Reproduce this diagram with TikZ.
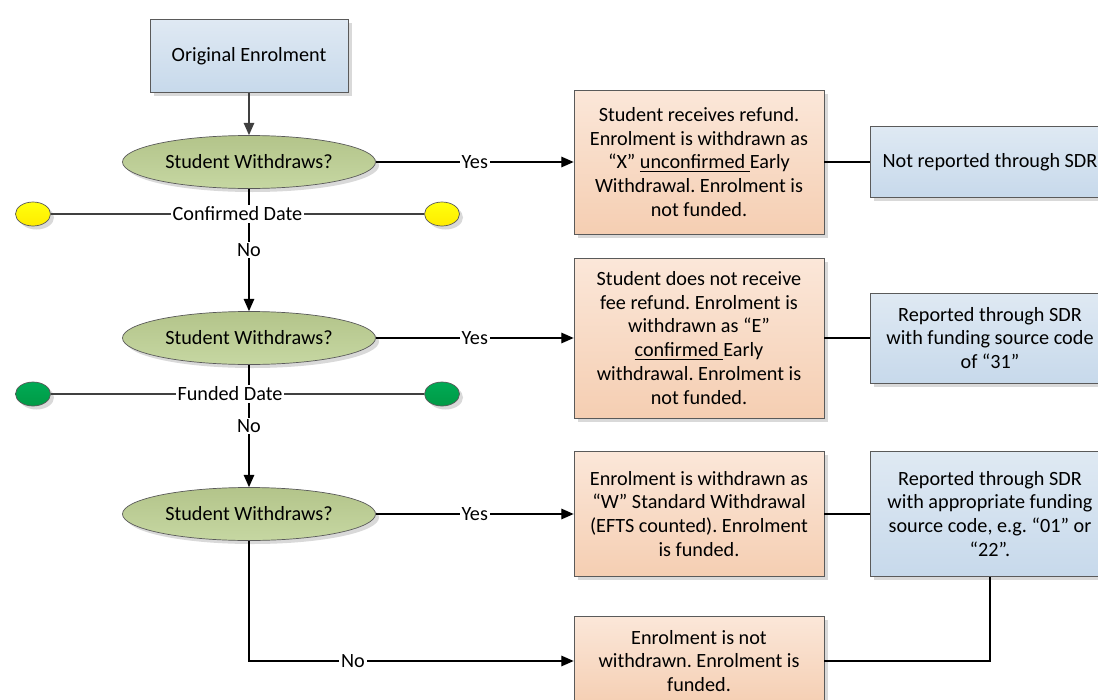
\documentclass[tikz,border=0pt]{standalone}
\usepackage{fontspec}
\setmainfont{Carlito}
\usepackage{tikz}
\usetikzlibrary{positioning}
\usetikzlibrary{shapes,arrows.meta,shadows}
\definecolor{orTop}{HTML}{FBE7D9}
\definecolor{orBot}{HTML}{F5CEB2}
\definecolor{blTop}{HTML}{DFE9F3}
\definecolor{blBot}{HTML}{C7D9EB}
\definecolor{grTop}{HTML}{B3C48A}
\definecolor{grBot}{HTML}{C6D7A2}
\definecolor{dotTop}{HTML}{00AA55}
\definecolor{dotBot}{HTML}{009A45}
\definecolor{edge}{HTML}{5A5A5A}
\tikzstyle{boxshadow} = [drop shadow={shadow xshift=0.07cm, shadow yshift=-0.07cm, fill=black!25, opacity=0.6}]
\tikzstyle{decision} = [ellipse, minimum width=5.06cm, minimum height=1.06cm, inner sep=0pt, text centered, draw=edge, top color=grTop, bottom color=grBot, boxshadow]
\tikzstyle{start} = [rectangle, draw=edge, top color=blTop, bottom color=blBot,
    minimum width=3.96cm, minimum height=1.46cm, text centered, boxshadow]
\tikzstyle{outcome} = [rectangle, draw=edge, top color=orTop, bottom color=orBot,
    minimum width=5cm, align=center, boxshadow]
\tikzstyle{report} = [rectangle, draw=edge, top color=blTop, bottom color=blBot,
    minimum width=4.8cm, align=center, boxshadow]
\tikzstyle{yellowdot} = [ellipse, draw=edge, minimum width=0.7cm, minimum height=0.48cm, inner sep=0pt, top color={yellow!95!white}, bottom color={yellow!85!orange}, boxshadow]
\tikzstyle{greendot} = [ellipse, draw=edge, minimum width=0.7cm, minimum height=0.48cm, inner sep=0pt, top color=dotTop, bottom color=dotBot, boxshadow]
\tikzstyle{dateline} = [line width=1.5pt, draw=black!75]
\tikzstyle{lbl} = [fill=white, inner sep=1pt]
\tikzstyle{arrow} = [line width=0.7pt, ->, >={Triangle[length=7pt,width=6pt]}]
\tikzstyle{link} = [line width=0.7pt]

\begin{document}
\begin{tikzpicture}[node distance = 3.52cm]
\fontsize{11.5}{13.6}\selectfont
\frenchspacing
\useasboundingbox (0,0) rectangle (21.96,-14);

\node (orig) [start] at (4.98,-1.12) {Original Enrolment};
\node (sw1) [decision, below of=orig, node distance=2.12cm] {Student Withdraws?};
\node (sw2) [decision, below of=sw1] {Student Withdraws?};
\node (sw3) [decision, below of=sw2] {Student Withdraws?};

\node (res1) [outcome, right of=sw1, node distance=9cm, minimum height=2.88cm] {Student receives refund.\\Enrolment is withdrawn as\\“X” \underline{unconfirmed\ }Early\\Withdrawal. Enrolment is\\not funded.};
\node (res2) [outcome, right of=sw2, node distance=9cm, minimum height=3.2cm] {Student does not receive\\fee refund. Enrolment is\\withdrawn as “E”\\\underline{confirmed\ }Early\\withdrawal. Enrolment is\\not funded.};
\node (res3) [outcome, right of=sw3, node distance=9cm, minimum height=2.5cm] {Enrolment is withdrawn as\\“W” Standard Withdrawal\\(EFTS counted). Enrolment\\is funded.};
\node (res4) [outcome, below of=res3, node distance=2.94cm, minimum height=1.8cm] {Enrolment is not\\withdrawn. Enrolment is\\funded.};

\node (sdr1) [report, right of=res1, node distance=5.82cm, minimum height=1.42cm] {Not reported through SDR};
\node (sdr2) [report, right of=res2, node distance=5.82cm, minimum height=1.8cm] {Reported through SDR\\with funding source code\\of “31”};
\node (sdr3) [report, right of=res3, node distance=5.82cm, minimum height=2.5cm] {Reported through SDR\\with appropriate funding\\source code, e.g. “01” or\\“22”.};

\node (cd1) [yellowdot] at (0.66,-4.28) {};
\node (cd2) [yellowdot] at (8.84,-4.28) {};
\node (fd1) [greendot] at (0.66,-7.88) {};
\node (fd2) [greendot] at (8.84,-7.88) {};

\draw [arrow, draw=black!75] (orig)--(sw1);
\draw [arrow] (sw1) -- node[lbl] {No} (sw2);
\draw [arrow] (sw2) -- node[lbl] {No} (sw3);
\draw [dateline] (cd1) -- node[lbl] {Confirmed Date} (cd2);
\draw [dateline] (fd1) -- node[lbl, pos=0.48] {Funded Date} (fd2);

\draw [arrow] (sw1) -- node[lbl] {Yes} (res1);
\draw [arrow] (sw2) -- node[lbl] {Yes} (res2);
\draw [arrow] (sw3) -- node[lbl] {Yes} (res3);
\draw [arrow] (sw3) |- node[lbl, pos=0.66] {No} (res4);

\draw [link] (res1)--(sdr1);
\draw [link] (res2)--(sdr2);
\draw [link] (res3)--(sdr3);
\draw [link] (res4) -| (sdr3);

\end{tikzpicture}
\end{document}
